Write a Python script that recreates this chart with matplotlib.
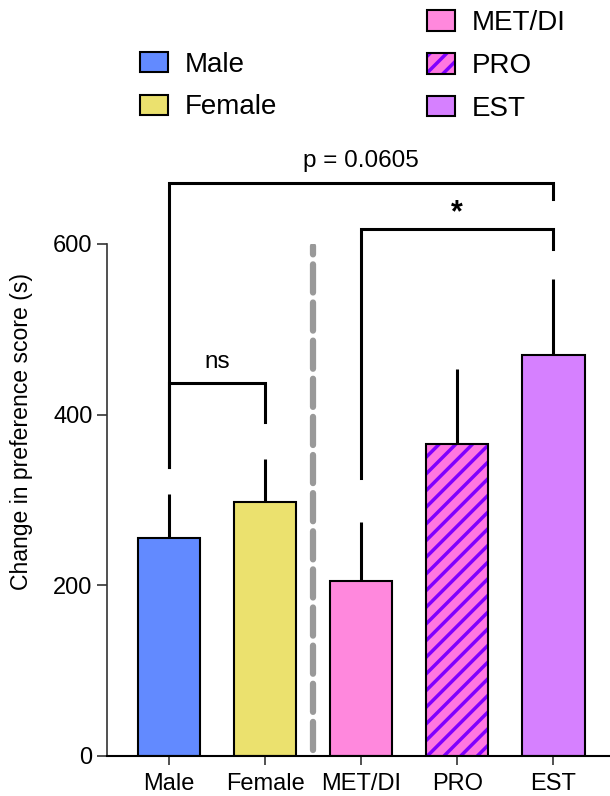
import matplotlib.pyplot as plt
from matplotlib.patches import Patch

plt.rcParams['font.family'] = ['Liberation Sans', 'DejaVu Sans']
plt.rcParams['hatch.linewidth'] = 2.5

# data
groups = ['Male', 'Female', 'MET/DI', 'PRO', 'EST']
means = [256, 298, 205, 366, 470]
upper_err = [51, 50, 69, 88, 89]
colors = ['#628AFF', '#EBE16E', '#FF88DD', '#FF77E0', '#D680FF']

# brackets: (x1, x2, top, left leg end, right leg end, label)
brackets = [
    (0, 1, 437, 339, 391, 'ns'),
    (0, 4, 672, 339, 653, 'p = 0.0605'),
    (2, 4, 618, 326, 594, '*'),
]

fig = plt.figure(figsize=(6.1, 7.96), dpi=100)
ax = fig.add_axes([0.1754, 0.0503, 0.8246, 0.6432])

x = list(range(len(groups)))
for i in x:
    if groups[i] == 'PRO':
        ax.bar(i, means[i], width=0.65, color=colors[i], edgecolor='#8000FF',
               hatch='//', linewidth=0, zorder=2)
        ax.bar(i, means[i], width=0.65, fill=False, edgecolor='black',
               linewidth=1.5, zorder=3)
    else:
        ax.bar(i, means[i], width=0.65, color=colors[i], edgecolor='black',
               linewidth=1.5, zorder=2)
    ax.plot([i, i], [means[i], means[i] + upper_err[i]], color='black',
            linewidth=2.2, zorder=1, solid_capstyle='butt')

# dashed separator between sex and treatment groups
ax.plot([1.5, 1.5], [7, 598], color='#999999', linewidth=4.5,
        dashes=(4.5, 1.6), dash_capstyle='round', zorder=1)

for x1, x2, top, l_end, r_end, label in brackets:
    ax.plot([x1, x1, x2, x2], [l_end, top, top, r_end], color='black',
            linewidth=2.2, clip_on=False, solid_joinstyle='miter')
    if label == '*':
        ax.text((x1 + x2) / 2, top + 1, label, ha='center', va='bottom',
                fontsize=22, fontweight='bold', clip_on=False)
    else:
        ax.text((x1 + x2) / 2, top + 12, label, ha='center', va='bottom',
                fontsize=17.5, clip_on=False)

ax.set_xlim(-0.646, 4.59)
ax.set_ylim(0, 600)
ax.set_xticks(x)
ax.set_xticklabels(groups)
ax.set_yticks([0, 200, 400, 600])
ax.tick_params(labelsize=17, width=1.2, length=7, color='#333333')
ax.tick_params(axis='x', length=6.5, pad=6)
ax.set_ylabel('Change in preference score (s)', fontsize=16.6)
ax.yaxis.set_label_coords(-0.147, 0.633)
ax.spines['top'].set_visible(False)
ax.spines['right'].set_visible(False)
ax.spines['left'].set_bounds(0, 600)
ax.spines['left'].set_color('#333333')
ax.spines['bottom'].set_linewidth(1.5)
ax.spines['left'].set_linewidth(1.2)

leg_kw = dict(frameon=False, fontsize=20, handlelength=1.0, handleheight=0.75,
              handletextpad=0.6, labelspacing=0.6, borderpad=0,
              borderaxespad=0, loc='upper left')
h1 = [Patch(facecolor=colors[0], edgecolor='black', linewidth=1.5),
      Patch(facecolor=colors[1], edgecolor='black', linewidth=1.5)]
fig.legend(h1, groups[:2], bbox_to_anchor=(0.2295, 0.935), **leg_kw)
pro_handle = (Patch(facecolor=colors[3], edgecolor='#8000FF', hatch='//', linewidth=0),
              Patch(fill=False, edgecolor='black', linewidth=1.5))
h2 = [Patch(facecolor=colors[2], edgecolor='black', linewidth=1.5),
      pro_handle,
      Patch(facecolor=colors[4], edgecolor='black', linewidth=1.5)]
fig.legend(h2, groups[2:], bbox_to_anchor=(0.700, 0.987), **leg_kw)

fig.savefig('out.png', dpi=100)
